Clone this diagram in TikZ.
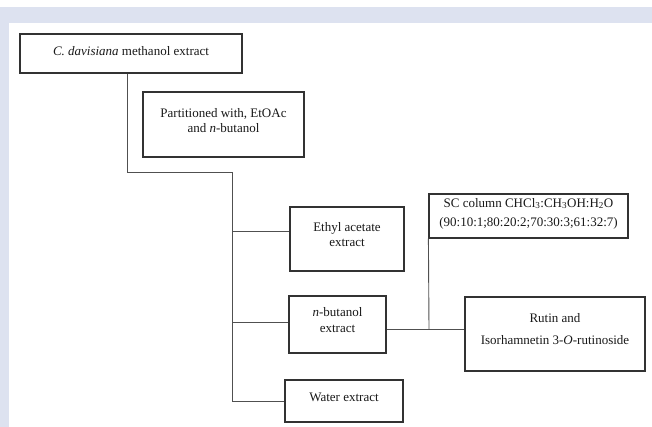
\documentclass[tikz,border=0pt]{standalone}
\usepackage{fontspec}
\setmainfont{Liberation Serif}
\definecolor{frame}{RGB}{221,226,240}
\definecolor{ink}{RGB}{25,25,25}
\definecolor{edge}{RGB}{50,50,50}
\definecolor{wire}{RGB}{80,80,80}
\begin{document}
\begin{tikzpicture}[x=1pt,y=-1pt,
  stepbox/.style={draw=edge, line width=1.2pt, inner sep=0pt, align=center,
    text=ink, font=\fontsize{13}{15}\selectfont},
  wireline/.style={draw=wire, line width=0.9pt}]
\useasboundingbox (0,0) rectangle (652,427);
\fill[white] (0,0) rectangle (652,427);
\fill[frame] (0,7) rectangle (652,23);
\fill[frame] (0,7) rectangle (9,427);

\node[stepbox, minimum width=222pt, minimum height=39pt, text depth=6pt] (crude) at (131,53.5)
  {\textit{C. davisiana} methanol extract};
\node[stepbox, minimum width=161pt, minimum height=65pt, text depth=7.6pt] (part) at (223.5,124.5)
  {Partitioned with, EtOAc\\and \textit{n}-butanol};
\node[stepbox, minimum width=114pt, minimum height=64pt, text depth=8.9pt] (ethyl) at (347,239)
  {Ethyl acetate\\extract};
\node[stepbox, minimum width=97pt, minimum height=57pt, text depth=9.5pt] (nbut) at (337.5,324.5)
  {\textit{n}-butanol\\[0.5pt]extract};
\node[stepbox, minimum width=118pt, minimum height=42pt, text depth=7.6pt] (water) at (344,401)
  {Water extract};
\node[stepbox, minimum width=199pt, minimum height=44pt, text depth=8pt] (sc) at (528.5,216)
  {SC column CHCl\textsubscript{3}:CH\textsubscript{3}OH:H\textsubscript{2}O\\[4pt](90:10:1;80:20:2;70:30:3;61:32:7)};
\node[stepbox, minimum width=180pt, minimum height=74pt, text depth=9.6pt] (rutin) at (555,334)
  {Rutin and\\[7pt]Isorhamnetin 3-\textit{O}-rutinoside};

\coordinate (j1) at (232,172);
\coordinate (j2) at (232,401);
\coordinate (je) at (232,231);
\coordinate (jn) at (232,322);
\coordinate (js) at (429,329);

\draw[wireline] ([xshift=-4pt]crude.south) |- (j1) -- (j2) -- (water.west);
\draw[wireline] (je) -- (ethyl.west |- je);
\draw[wireline] (jn) -- (nbut.west |- jn);
\draw[wireline] (nbut.east |- js) -- (rutin.west |- js);
\draw[wireline] (sc.south west) -- (js);
\end{tikzpicture}
\end{document}
